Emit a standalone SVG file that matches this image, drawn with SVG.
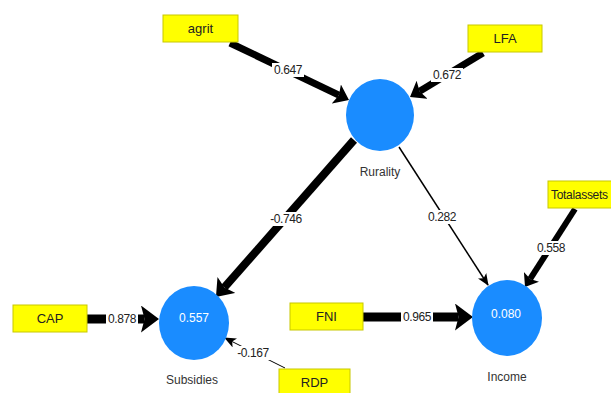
<svg xmlns="http://www.w3.org/2000/svg" width="611" height="393" viewBox="0 0 611 393">
<style>
.box{fill:#ffff00;stroke:#c8c800;stroke-width:1}
.bt{font-family:"Liberation Sans",Arial,sans-serif;font-size:13px;fill:#222;text-anchor:middle;dominant-baseline:central}
.lv{fill:#1a8cff}
.vt{font-family:"Liberation Sans",Arial,sans-serif;font-size:12px;fill:#fff;text-anchor:middle;dominant-baseline:central}
.nl{font-family:"Liberation Sans",Arial,sans-serif;font-size:12px;fill:#333;text-anchor:middle;dominant-baseline:central}
.e{stroke:#000;fill:none;stroke-linecap:butt}
.thick{marker-end:url(#ah)}
.thin{marker-end:url(#at)}
.lb{fill:#fff}
.el{font-family:"Liberation Sans",Arial,sans-serif;font-size:12px;fill:#222;text-anchor:middle;dominant-baseline:central;letter-spacing:-0.4px}
</style>
<defs>
<marker id="ah" viewBox="0 0 2 3" refX="0.4" refY="1.5" markerWidth="2" markerHeight="3" markerUnits="strokeWidth" orient="auto">
<path d="M0,0 L2,1.5 L0,3 L0.4,1.5 Z" fill="#000"/>
</marker>
<marker id="at" viewBox="0 0 12 10" refX="11" refY="5" markerWidth="12" markerHeight="10" markerUnits="userSpaceOnUse" orient="auto">
<path d="M0,0 L12,5 L0,10 L3,5 Z" fill="#000"/>
</marker>
</defs>
<rect width="611" height="393" fill="#fff"/>
<g id="connectors">
<line class="e thick" x1="230" y1="43" x2="338.9" y2="95.2" stroke-width="7"/>
<line class="e thick" x1="483" y1="53" x2="419.6" y2="91.2" stroke-width="7"/>
<line class="e thick" x1="354" y1="140" x2="224.4" y2="287.4" stroke-width="8"/>
<line class="e thin" x1="399" y1="147" x2="488" y2="285" stroke-width="1.5"/>
<line class="e thick" x1="575" y1="209" x2="530.2" y2="278.9" stroke-width="6"/>
<line class="e thick" x1="87" y1="319" x2="144.6" y2="319" stroke-width="9"/>
<line class="e thick" x1="363" y1="317" x2="458.6" y2="317" stroke-width="9"/>
<line class="e thin" x1="285" y1="368" x2="225" y2="338" stroke-width="1"/>
<rect class="lb" x="272" y="63" width="32" height="14"/><text class="el" x="288" y="70">0.647</text>
<rect class="lb" x="431" y="68" width="32" height="14"/><text class="el" x="447" y="75">0.672</text>
<rect class="lb" x="268" y="212" width="36" height="14"/><text class="el" x="286" y="219">-0.746</text>
<rect class="lb" x="426" y="210" width="32" height="14"/><text class="el" x="442" y="217">0.282</text>
<rect class="lb" x="535" y="241" width="32" height="14"/><text class="el" x="551" y="248">0.558</text>
<rect class="lb" x="106" y="312" width="32" height="14"/><text class="el" x="122" y="319">0.878</text>
<rect class="lb" x="401" y="310" width="32" height="14"/><text class="el" x="417" y="317">0.965</text>
<rect class="lb" x="235" y="346" width="36" height="14"/><text class="el" x="253" y="353">-0.167</text>
</g>
<g id="agrit"><rect class="box" x="163" y="15" width="75" height="27"/><text class="bt" x="200.5" y="28.5">agrit</text></g>
<g id="LFA"><rect class="box" x="468" y="25" width="74" height="27"/><text class="bt" x="505" y="38.5">LFA</text></g>
<g id="Rurality"><ellipse class="lv" cx="380" cy="115" rx="34" ry="36"/><text class="nl" x="380" y="172">Rurality</text></g>
<g id="Totalassets"><rect class="box" x="548" y="181" width="70" height="27"/><text class="bt" x="551" y="194.5" style="text-anchor:start;font-size:12px;letter-spacing:-0.3px">Totalassets</text></g>
<g id="CAP"><rect class="box" x="13" y="305" width="74" height="27"/><text class="bt" x="50" y="318.5">CAP</text></g>
<g id="Subsidies"><ellipse class="lv" cx="194" cy="323" rx="35" ry="37"/><text class="vt" x="194" y="318">0.557</text><text class="nl" x="192" y="380">Subsidies</text></g>
<g id="FNI"><rect class="box" x="290" y="303" width="73" height="27"/><text class="bt" x="326.5" y="316.5">FNI</text></g>
<g id="Income"><ellipse class="lv" cx="507" cy="318" rx="35" ry="38"/><text class="vt" x="506" y="314">0.080</text><text class="nl" x="507" y="377">Income</text></g>
<g id="RDP"><rect class="box" x="279" y="369" width="71" height="26"/><text class="bt" x="314.5" y="382">RDP</text></g>
</svg>
